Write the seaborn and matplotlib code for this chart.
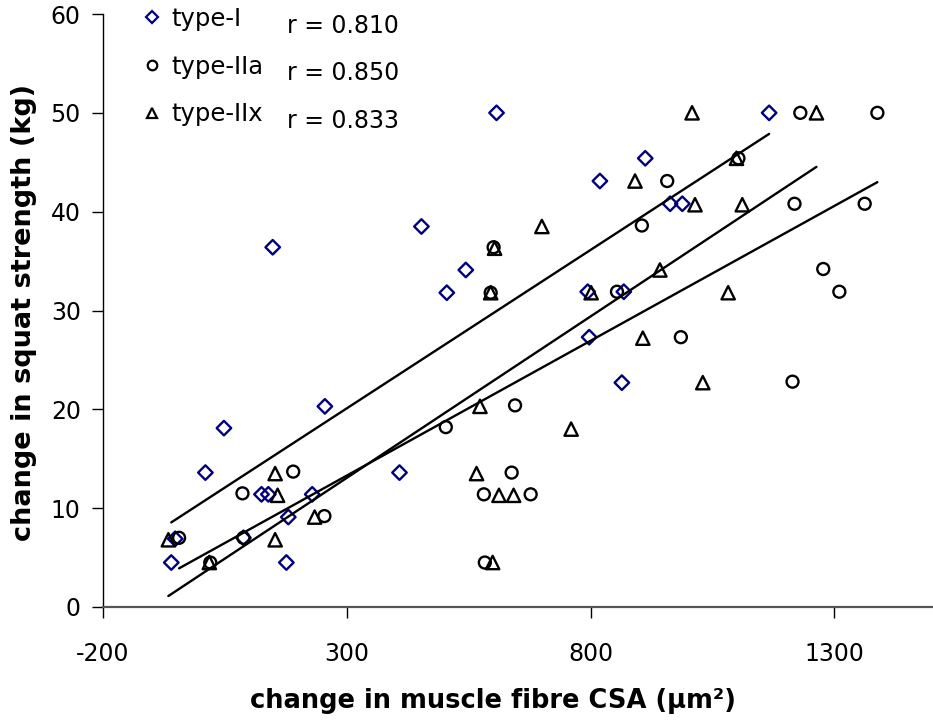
import matplotlib
matplotlib.use("Agg")
import matplotlib.pyplot as plt
from matplotlib.lines import Line2D
import numpy as np
import pandas as pd
import seaborn as sns

# change in fibre cross-sectional area (um^2) and squat strength (kg), per fibre type
type_i_csa = [-60, -52, 10, 48, 88, 125, 139, 148, 176, 180, 229, 255, 408, 453,
              505, 544, 607, 794, 797, 819, 864, 868, 912, 963, 988, 1166]
type_i_kg = [4.5, 6.9, 13.6, 18.1, 7.0, 11.4, 11.4, 36.4, 4.5, 9.1, 11.4, 20.3, 13.6, 38.5,
             31.8, 34.1, 50.0, 31.9, 27.3, 43.1, 22.7, 31.9, 45.4, 40.8, 40.8, 50.0]

type_iia_csa = [-44, 20, 86, 88, 190, 254, 503, 581, 583, 595, 601, 638, 645, 677,
                854, 905, 957, 985, 1103, 1214, 1218, 1230, 1277, 1310, 1362, 1388]
type_iia_kg = [7.0, 4.5, 11.5, 7.0, 13.7, 9.2, 18.2, 11.4, 4.5, 31.8, 36.4, 13.6, 20.4, 11.4,
               31.9, 38.6, 43.1, 27.3, 45.4, 22.8, 40.8, 50.0, 34.2, 31.9, 40.8, 50.0]

type_iix_csa = [-66, 18, 153, 158, 153, 234, 566, 573, 595, 599, 603, 612, 642, 700,
                760, 801, 891, 907, 942, 1008, 1014, 1030, 1082, 1099, 1111, 1263]
type_iix_kg = [6.8, 4.5, 13.5, 11.3, 6.8, 9.1, 13.5, 20.3, 31.8, 4.5, 36.3, 11.3, 11.3, 38.5,
               18.0, 31.8, 43.1, 27.2, 34.1, 50.0, 40.7, 22.7, 31.8, 45.4, 40.7, 50.0]

series_names = ["type-I", "type-IIa", "type-IIx"]
r_values = ["0.810", "0.850", "0.833"]
x_ticks = [-200, 300, 800, 1300]
y_ticks = [0, 10, 20, 30, 40, 50, 60]

sns.set_theme(style="ticks")
plt.rcParams["font.family"] = ["DejaVu Sans"]
plt.rcParams["axes.unicode_minus"] = False
plt.rcParams["text.color"] = "black"
plt.rcParams["axes.labelcolor"] = "black"

frames = []
for name, xs, ys in zip(series_names,
                        [type_i_csa, type_iia_csa, type_iix_csa],
                        [type_i_kg, type_iia_kg, type_iix_kg]):
    frames.append(pd.DataFrame({"csa": xs, "kg": ys, "fibre": name}))
data = pd.concat(frames, ignore_index=True)

navy = "#000080"
styles = {
    "type-I": dict(marker="D", size=7.4, color=navy),
    "type-IIa": dict(marker="o", size=8.6, color="black"),
    "type-IIx": dict(marker="^", size=9.6, color="black"),
}

fig = plt.figure(figsize=(9.33, 7.22), dpi=100)
ax = fig.add_axes([103 / 933, 1 - 607 / 722, 829 / 933, 593 / 722])

for name in series_names:
    sub = data[data["fibre"] == name]
    st = styles[name]
    sns.scatterplot(data=sub, x="csa", y="kg", ax=ax, marker=st["marker"],
                    s=st["size"] ** 2, facecolor="none", edgecolor=st["color"],
                    linewidth=1.7, zorder=3, legend=False)
    sns.regplot(data=sub, x="csa", y="kg", ax=ax, scatter=False, ci=None,
                truncate=True, line_kws=dict(color="black", lw=1.7, zorder=4))

ax.set_xlim(-200, 1500)
ax.set_ylim(0, 60)
ax.set_xticks(x_ticks)
ax.set_yticks(y_ticks)
ax.tick_params(axis="both", labelsize=17, length=8, width=1.0, color="black",
               labelcolor="black")
ax.tick_params(axis="x", pad=17)
ax.tick_params(axis="y", pad=8)
for side in ["top", "right"]:
    ax.spines[side].set_visible(False)
ax.spines["left"].set_color("black")
ax.spines["left"].set_linewidth(1.0)
ax.spines["bottom"].set_color("#555555")
ax.spines["bottom"].set_linewidth(1.6)

ax.set_xlabel("change in muscle fibre CSA (µm²)", fontsize=18.5, fontweight="bold")
ax.xaxis.set_label_coords((493 - 103) / 829, -(688 - 607) / 593)
ax.set_ylabel("change in squat strength (kg)", fontsize=19.5, fontweight="bold")
ax.yaxis.set_label_coords(-(103 - 37) / 829, (607 - 312) / 593)

handles = [Line2D([], [], linestyle="none", marker=styles[n]["marker"],
                  markersize=styles[n]["size"] * 0.8, markerfacecolor="none",
                  markeredgecolor=styles[n]["color"], markeredgewidth=1.6)
           for n in series_names]
ax.legend(handles, series_names, loc="upper left", bbox_to_anchor=(143 / 933, 1 - 7 / 722),
          bbox_transform=fig.transFigure, frameon=False, fontsize=17.5,
          handlelength=0.7, handletextpad=0.45, labelspacing=0.97, borderpad=0,
          borderaxespad=0)

for i, r in enumerate(r_values):
    fig.text(287 / 933, 1 - (33 + 47.5 * i) / 722, f"r = {r}", fontsize=17,
             va="baseline", ha="left")

fig.savefig("out.png", dpi=100)
